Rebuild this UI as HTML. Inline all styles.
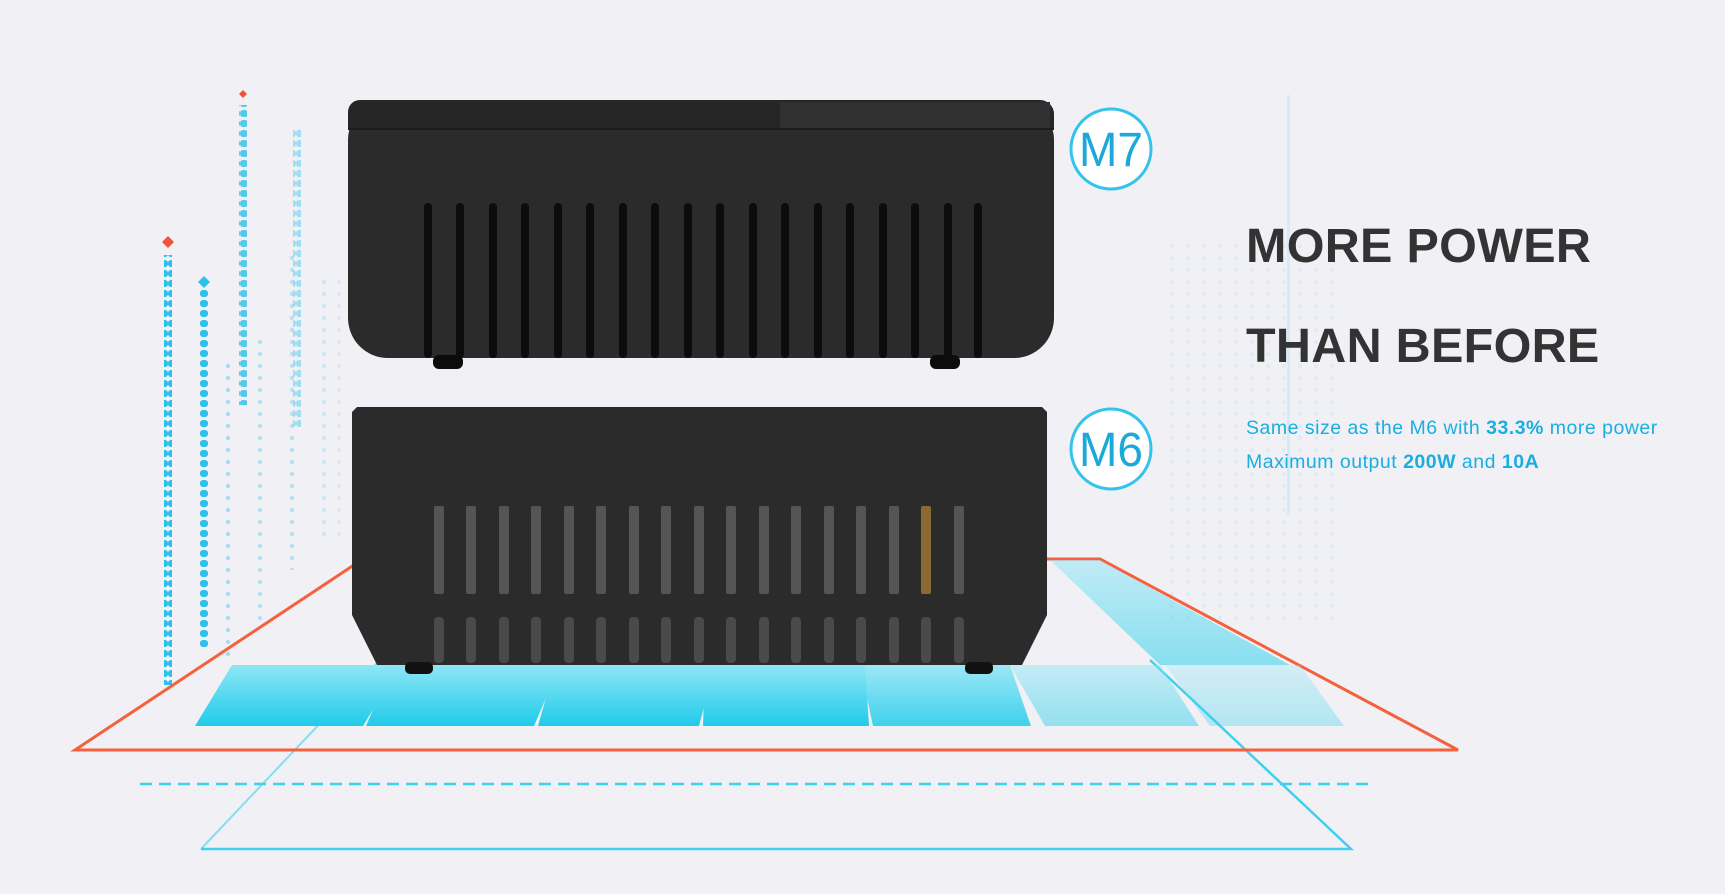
<!DOCTYPE html>
<html><head><meta charset="utf-8"><style>
html,body{margin:0;padding:0}
body{width:1725px;height:894px;background:#f1f1f5;position:relative;overflow:hidden;font-family:"Liberation Sans",sans-serif}
.h{position:absolute;left:1246px;font-size:48.5px;font-weight:bold;color:#333;letter-spacing:0.3px}
.s{position:absolute;left:1246px;font-size:19.5px;color:#1aaee0;letter-spacing:0.5px}
.s b{font-weight:bold}
</style></head><body>
<svg width="1725" height="894" style="position:absolute;left:0;top:0">
<defs>
<linearGradient id="bar" x1="0" y1="0" x2="0" y2="1"><stop offset="0" stop-color="#8ee6f7"/><stop offset="1" stop-color="#20cbe9"/></linearGradient>
<pattern id="dots" width="16" height="12" patternUnits="userSpaceOnUse"><circle cx="4" cy="6" r="2.2" fill="#6fd0ef"/></pattern>
<pattern id="dash" width="8" height="10" patternUnits="userSpaceOnUse"><rect x="0" y="0" width="8" height="7" rx="3" fill="#2cc0ea"/></pattern>
</defs>
<g>
<rect x="164" y="255" width="8" height="430" fill="url(#dash)"/>
<rect x="200" y="290" width="8" height="360" fill="url(#dash)"/>
<rect x="239" y="105" width="8" height="300" fill="url(#dash)" opacity=".8"/>
<rect x="293" y="130" width="8" height="300" fill="url(#dash)" opacity=".4"/>
<rect x="183" y="380" width="10" height="320" fill="url(#dots)" opacity=".7"/>
<rect x="220" y="360" width="12" height="300" fill="url(#dots)" opacity=".6"/>
<rect x="255" y="340" width="14" height="280" fill="url(#dots)" opacity=".5"/>
<rect x="280" y="250" width="14" height="320" fill="url(#dots)" opacity=".45"/>
<rect x="310" y="280" width="30" height="260" fill="url(#dots)" opacity=".3"/>
<rect x="1160" y="240" width="180" height="380" fill="url(#dots)" opacity=".15"/>
<rect x="1287" y="95" width="3" height="420" fill="#cfeef9"/>
</g>
<path d="M243 90 l4 4 -4 4 -4 -4z M168 236 l6 6 -6 6 -6 -6z" fill="#f0553a"/>
<path d="M204 276 l6 6 -6 6 -6 -6z" fill="#2cc0ea"/>
<polyline points="201,849 1351,849 1150,660" fill="none" stroke="#3fd0ee" stroke-width="2.5"/>
<line x1="201" y1="849" x2="380" y2="660" stroke="#3fd0ee" stroke-width="2" opacity=".6"/>
<line x1="140" y1="784" x2="1375" y2="784" stroke="#3fd0ee" stroke-width="2.5" stroke-dasharray="12,7"/>
<polygon points="75,750 1458,750 1100,559 363,559" fill="none" stroke="#f5603d" stroke-width="3"/>
<g fill="url(#bar)">
<polygon points="195,726 363,726 400,665 232,665"/>
<polygon points="366,726 534,726 560,665 392,665"/>
<polygon points="538,726 699,726 715,665 555,665"/>
<polygon points="703,726 869,726 865,665 705,665"/>
<polygon points="873,726 1031,726 1010,665 860,665" opacity=".85"/>
<polygon points="1045,726 1199,726 1160,665 1010,665" opacity=".45"/>
<polygon points="1210,726 1344,726 1300,665 1165,665" opacity=".3"/>
<polygon points="1050,560 1100,560 1290,665 1160,665" opacity=".5"/>
</g>
<rect x="348" y="100" width="706" height="258" rx="40" fill="#2b2b2b"/>
<path d="M360 100 H1040 a14 14 0 0 1 14 14 V130 H348 V112 a12 12 0 0 1 12 -12z" fill="#262626"/>
<rect x="780" y="102" width="270" height="26" fill="#303030"/>
<rect x="348" y="128" width="706" height="2" fill="#1c1c1c"/>
<g fill="#0c0c0c">
<rect x="424" y="203" width="8" height="155" rx="4"/><rect x="456" y="203" width="8" height="155" rx="4"/><rect x="489" y="203" width="8" height="155" rx="4"/><rect x="521" y="203" width="8" height="155" rx="4"/><rect x="554" y="203" width="8" height="155" rx="4"/><rect x="586" y="203" width="8" height="155" rx="4"/><rect x="619" y="203" width="8" height="155" rx="4"/><rect x="651" y="203" width="8" height="155" rx="4"/><rect x="684" y="203" width="8" height="155" rx="4"/><rect x="716" y="203" width="8" height="155" rx="4"/><rect x="749" y="203" width="8" height="155" rx="4"/><rect x="781" y="203" width="8" height="155" rx="4"/><rect x="814" y="203" width="8" height="155" rx="4"/><rect x="846" y="203" width="8" height="155" rx="4"/><rect x="879" y="203" width="8" height="155" rx="4"/><rect x="911" y="203" width="8" height="155" rx="4"/><rect x="944" y="203" width="8" height="155" rx="4"/><rect x="974" y="203" width="8" height="155" rx="4"/>
<rect x="433" y="355" width="30" height="14" rx="6"/><rect x="930" y="355" width="30" height="14" rx="6"/>
</g>
<polygon points="357,407 1042,407 1047,412 1047,615 1022,665 377,665 352,615 352,412" fill="#2b2b2b"/>
<g fill="#555">
<rect x="434" y="506" width="10" height="88" rx="2"/><rect x="466" y="506" width="10" height="88" rx="2"/><rect x="499" y="506" width="10" height="88" rx="2"/><rect x="531" y="506" width="10" height="88" rx="2"/><rect x="564" y="506" width="10" height="88" rx="2"/><rect x="596" y="506" width="10" height="88" rx="2"/><rect x="629" y="506" width="10" height="88" rx="2"/><rect x="661" y="506" width="10" height="88" rx="2"/><rect x="694" y="506" width="10" height="88" rx="2"/><rect x="726" y="506" width="10" height="88" rx="2"/><rect x="759" y="506" width="10" height="88" rx="2"/><rect x="791" y="506" width="10" height="88" rx="2"/><rect x="824" y="506" width="10" height="88" rx="2"/><rect x="856" y="506" width="10" height="88" rx="2"/><rect x="889" y="506" width="10" height="88" rx="2"/><rect x="921" y="506" width="10" height="88" rx="2" fill="#8a6a30"/><rect x="954" y="506" width="10" height="88" rx="2"/>
</g>
<g fill="#4a4a4a">
<rect x="434" y="617" width="10" height="46" rx="4"/><rect x="466" y="617" width="10" height="46" rx="4"/><rect x="499" y="617" width="10" height="46" rx="4"/><rect x="531" y="617" width="10" height="46" rx="4"/><rect x="564" y="617" width="10" height="46" rx="4"/><rect x="596" y="617" width="10" height="46" rx="4"/><rect x="629" y="617" width="10" height="46" rx="4"/><rect x="661" y="617" width="10" height="46" rx="4"/><rect x="694" y="617" width="10" height="46" rx="4"/><rect x="726" y="617" width="10" height="46" rx="4"/><rect x="759" y="617" width="10" height="46" rx="4"/><rect x="791" y="617" width="10" height="46" rx="4"/><rect x="824" y="617" width="10" height="46" rx="4"/><rect x="856" y="617" width="10" height="46" rx="4"/><rect x="889" y="617" width="10" height="46" rx="4"/><rect x="921" y="617" width="10" height="46" rx="4"/><rect x="954" y="617" width="10" height="46" rx="4"/>
</g>
<g fill="#111"><rect x="405" y="662" width="28" height="12" rx="5"/><rect x="965" y="662" width="28" height="12" rx="5"/></g>
<circle cx="1111" cy="149" r="40" fill="#fff" stroke="#35c3ec" stroke-width="3"/>
<circle cx="1111" cy="449" r="40" fill="#fff" stroke="#35c3ec" stroke-width="3"/>
<text x="1111" y="166" text-anchor="middle" font-family="Liberation Sans Narrow,Liberation Sans,sans-serif" font-size="48" fill="#1aa9d8" textLength="64" lengthAdjust="spacingAndGlyphs">M7</text>
<text x="1111" y="466" text-anchor="middle" font-family="Liberation Sans Narrow,Liberation Sans,sans-serif" font-size="48" fill="#1aa9d8" textLength="64" lengthAdjust="spacingAndGlyphs">M6</text>
</svg>
<div class="h" style="top:218px">MORE POWER</div>
<div class="h" style="top:318px">THAN BEFORE</div>
<div class="s" style="top:417px">Same size as the M6 with <b>33.3%</b> more power</div>
<div class="s" style="top:451px">Maximum output <b>200W</b> and <b>10A</b></div>
</body></html>
